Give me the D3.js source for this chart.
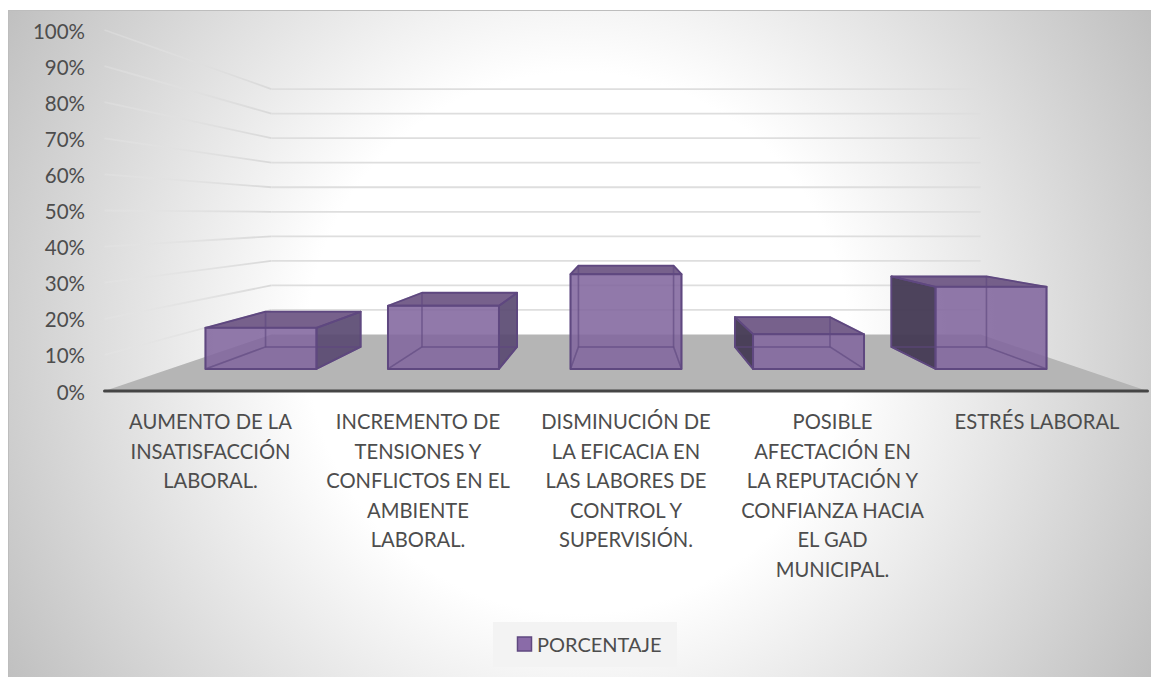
<!DOCTYPE html>
<html><head><meta charset="utf-8">
<script src="https://cdnjs.cloudflare.com/ajax/libs/d3/7.8.5/d3.min.js"></script>
<style>html,body{margin:0;padding:0;background:#fff}svg{display:block}</style>
</head><body><svg id="c" width="1151" height="677"></svg>
<script>
const categories = [
  ["AUMENTO DE LA","INSATISFACCIÓN","LABORAL."],
  ["INCREMENTO DE","TENSIONES Y","CONFLICTOS EN EL","AMBIENTE","LABORAL."],
  ["DISMINUCIÓN DE","LA EFICACIA EN","LAS LABORES DE","CONTROL Y","SUPERVISIÓN."],
  ["POSIBLE","AFECTACIÓN EN","LA REPUTACIÓN Y","CONFIANZA HACIA","EL GAD","MUNICIPAL."],
  ["ESTRÉS LABORAL"]
];
const values = [0.13, 0.20, 0.30, 0.11, 0.26];
const yTicks = [0,0.1,0.2,0.3,0.4,0.5,0.6,0.7,0.8,0.9,1];
const seriesName = "PORCENTAJE";

const svg = d3.select("#c");
const defs = svg.append("defs");
const bg = defs.append("radialGradient").attr("id","bg").attr("gradientUnits","userSpaceOnUse")
  .attr("cx",578).attr("cy",343).attr("r",660);
bg.append("stop").attr("offset",0).attr("stop-color","#ffffff");
bg.append("stop").attr("offset",0.41).attr("stop-color","#ffffff");
bg.append("stop").attr("offset",1).attr("stop-color","#c0c0c0");

svg.append("rect").attr("x",8).attr("y",10).attr("width",1143).attr("height",667).attr("fill","url(#bg)");
svg.append("path").attr("d","M8.5,677V10.5H1151").attr("fill","none").attr("stroke","#bdbdbd");

// perspective projection of the chart's 3D box
const cx = 626, floorY = 391, horizon = 214.5;
const u = d3.scaleLinear().domain([0,1]).range([-521.5,521.5]);
const v = d3.scaleLinear().domain([0,1]).range([0,361]);
const px = (a,s)=> cx + u(a)*s;
const py = (val,s)=> horizon + (floorY-horizon)*s - v(val)*s;
const P = (a,val,s)=>[px(a,s),py(val,s)];
const sFront=1, sWall=0.68, sBarFront=0.875, sBarBack=0.75;
const band = d3.scaleBand().domain(d3.range(values.length)).range([0,1]).paddingInner(0.392).paddingOuter(0.196);
const line = d3.line();
const poly = pts => line(pts)+"Z";

// floor
svg.append("path").attr("d",poly([P(0,0,sFront),P(1,0,sFront),P(1,0,sWall),P(0,0,sWall)])).attr("fill","#b5b5b5");

// gridlines
const gridGrad = defs.append("linearGradient").attr("id","gl").attr("gradientUnits","userSpaceOnUse")
  .attr("x1",105).attr("x2",272).attr("y1",0).attr("y2",0);
gridGrad.append("stop").attr("offset",0).attr("stop-color","#e6e6e6").attr("stop-opacity",0.35);
gridGrad.append("stop").attr("offset",1).attr("stop-color","#d9d9d9");
yTicks.filter(t=>t>0).forEach(t=>{
  svg.append("line").attr("x1",px(0,sFront)).attr("y1",py(t,sFront)).attr("x2",px(0,sWall)).attr("y2",py(t,sWall))
    .attr("stroke","url(#gl)").attr("stroke-width",1.8);
  svg.append("line").attr("x1",px(0,sWall)).attr("y1",py(t,sWall)).attr("x2",px(1,sWall)).attr("y2",py(t,sWall))
    .attr("stroke","#dedede").attr("stroke-width",1.8);
});

// bars
const edge="#5f4880";
values.forEach((val,i)=>{
  const a=band(i), b=a+band.bandwidth();
  const g=svg.append("g").attr("stroke",edge).attr("stroke-linejoin","round");
  const face=(pts,c,o,sw)=>g.append("path").attr("d",poly(pts)).attr("fill",c).attr("fill-opacity",o).attr("stroke-width",sw);
  const L=[P(a,0,sBarFront),P(a,val,sBarFront),P(a,val,sBarBack),P(a,0,sBarBack)];
  const R=[P(b,0,sBarFront),P(b,val,sBarFront),P(b,val,sBarBack),P(b,0,sBarBack)];
  const top=[P(a,val,sBarFront),P(b,val,sBarFront),P(b,val,sBarBack),P(a,val,sBarBack)];
  const front=[P(a,0,sBarFront),P(b,0,sBarFront),P(b,val,sBarFront),P(a,val,sBarFront)];
  const back=[P(a,0,sBarBack),P(b,0,sBarBack),P(b,val,sBarBack),P(a,val,sBarBack)];
  const floor=[P(a,0,sBarFront),P(b,0,sBarFront),P(b,0,sBarBack),P(a,0,sBarBack)];
  const showL = px(a,sBarBack) < px(a,sBarFront)-1;
  const showR = px(b,sBarBack) > px(b,sBarFront)+1;
  if(showL) face(L,"#463b55",0.96,1.8);
  if(showR) face(R,"#5a4a72",0.92,1.8);
  face(top,"#6b5482",0.92,1.8);
  face(front,"#82669e",0.88,0);
  // hidden edges showing through the translucent box
  const hidden=g.append("g").attr("fill","none").attr("stroke","#5f4880").attr("stroke-opacity",0.4).attr("stroke-width",1.5);
  hidden.append("path").attr("d",poly(back));
  hidden.append("path").attr("d",poly(floor));
  hidden.append("path").attr("d",poly(L));
  hidden.append("path").attr("d",poly(R));
  face(front,"none",0,2);
});

// floor front edge
svg.append("line").attr("x1",px(0,1)).attr("x2",px(1,1)).attr("y1",floorY).attr("y2",floorY)
  .attr("stroke","#454545").attr("stroke-width",3).attr("stroke-linecap","round");

const font="Lato, sans-serif";
// y axis
const yScale = d3.scaleLinear().domain([0,1]).range([floorY+1.5,floorY+1.5-361]);
const axis = d3.axisLeft(yScale).tickValues(yTicks).tickFormat(d3.format(".0%")).tickSize(0).tickPadding(0);
const ag = svg.append("g").attr("transform","translate(85,0)").call(axis);
ag.select(".domain").remove();
ag.selectAll("text").attr("font-family",font).attr("font-size",20.5).attr("fill","#4d4d4d");

// category labels
const labelCx = [210.5,418,626,832.5,1037];
categories.forEach((lines,i)=>{
  const t=svg.append("text").attr("text-anchor","middle").attr("font-family",font).attr("font-size",20.2).attr("fill","#4d4d4d");
  lines.forEach((s,j)=>t.append("tspan").attr("x",labelCx[i]).attr("y",429+j*29.6).text(s));
});

// legend
const lg=svg.append("g");
lg.append("rect").attr("x",493).attr("y",622).attr("width",184).attr("height",45).attr("fill","#f3f3f3");
lg.append("rect").attr("x",517.5).attr("y",637).attr("width",14).attr("height",14).attr("fill","#8a6ba8").attr("stroke",edge).attr("stroke-width",1.5);
lg.append("text").attr("x",537).attr("y",651.5).attr("font-family",font).attr("font-size",20).attr("fill","#4d4d4d").text(seriesName);
</script></body></html>
